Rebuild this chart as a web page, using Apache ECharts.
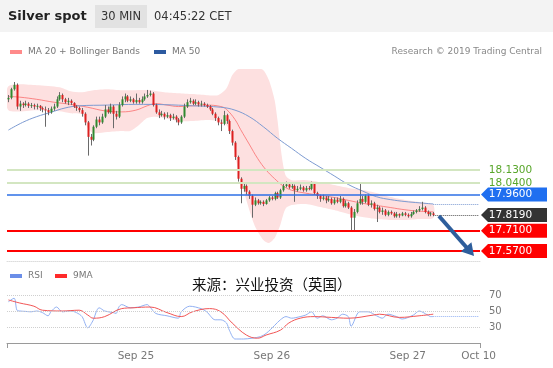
<!DOCTYPE html>
<html><head><meta charset="utf-8">
<script src="https://cdn.jsdelivr.net/npm/echarts@6/dist/echarts.min.js"></script>
<style>html,body{margin:0;padding:0;background:#fff}#c{width:553px;height:368px}</style>
</head><body><div id="c"></div>
<script>
// ---------- DATA ----------
const dayLabels = ['Sep 25', 'Sep 26', 'Sep 27', 'Oct 10'];
const dayLabelIndex = [45, 93, 141, 166];
const categoryCount = 167;

// 30-min candles [open, close, low, high], from Sep 24 01:30 CET
const candleOHLC = [
[18.62,18.63,18.60,18.65],[18.63,18.69,18.62,18.70],[18.69,18.72,18.68,18.74],[18.72,18.57,18.55,18.73],[18.57,18.59,18.54,18.61],
[18.59,18.58,18.56,18.60],[18.58,18.59,18.57,18.61],[18.59,18.575,18.56,18.60],[18.575,18.58,18.56,18.595],[18.58,18.57,18.55,18.59],
[18.57,18.575,18.55,18.59],[18.575,18.56,18.54,18.58],[18.56,18.55,18.53,18.57],[18.55,18.545,18.43,18.57],[18.545,18.53,18.51,18.56],
[18.53,18.555,18.52,18.57],[18.555,18.57,18.54,18.59],[18.57,18.62,18.56,18.64],[18.62,18.65,18.61,18.67],[18.65,18.62,18.60,18.66],
[18.62,18.60,18.59,18.63],[18.60,18.61,18.58,18.63],[18.61,18.595,18.58,18.62],[18.595,18.57,18.56,18.60],[18.57,18.56,18.54,18.58],
[18.56,18.545,18.53,18.57],[18.545,18.52,18.50,18.56],[18.52,18.46,18.44,18.53],[18.46,18.36,18.23,18.47],[18.36,18.34,18.30,18.38],
[18.34,18.43,18.33,18.44],[18.43,18.48,18.42,18.50],[18.48,18.46,18.44,18.50],[18.46,18.50,18.45,18.52],[18.50,18.55,18.49,18.58],
[18.55,18.53,18.52,18.57],[18.53,18.57,18.52,18.59],[18.57,18.52,18.42,18.58],[18.52,18.50,18.48,18.54],[18.50,18.58,18.49,18.60],
[18.58,18.62,18.57,18.64],[18.62,18.64,18.60,18.66],[18.64,18.61,18.60,18.65],[18.61,18.62,18.60,18.64],[18.62,18.60,18.59,18.63],
[18.60,18.615,18.59,18.66],[18.615,18.60,18.59,18.63],[18.60,18.62,18.59,18.64],[18.62,18.64,18.61,18.66],[18.64,18.65,18.63,18.685],
[18.65,18.66,18.64,18.68],[18.66,18.58,18.57,18.67],[18.58,18.53,18.52,18.59],[18.53,18.51,18.49,18.55],[18.51,18.52,18.50,18.54],
[18.52,18.50,18.48,18.53],[18.50,18.51,18.49,18.53],[18.51,18.49,18.47,18.52],[18.49,18.50,18.48,18.52],[18.50,18.48,18.46,18.51],
[18.48,18.46,18.44,18.49],[18.46,18.50,18.45,18.51],[18.50,18.57,18.49,18.59],[18.57,18.60,18.56,18.62],[18.60,18.61,18.59,18.63],
[18.61,18.59,18.58,18.62],[18.59,18.60,18.58,18.62],[18.60,18.585,18.57,18.61],[18.585,18.59,18.57,18.61],[18.59,18.58,18.57,18.60],
[18.58,18.57,18.56,18.59],[18.57,18.55,18.54,18.58],[18.55,18.52,18.51,18.56],[18.52,18.49,18.47,18.53],[18.49,18.46,18.44,18.50],
[18.46,18.45,18.40,18.48],[18.45,18.51,18.44,18.54],[18.51,18.47,18.45,18.52],[18.47,18.40,18.38,18.48],[18.40,18.32,18.30,18.41],
[18.32,18.22,18.20,18.33],[18.22,18.07,18.05,18.23],[18.07,18.00,17.90,18.08],[18.00,18.02,17.98,18.04],[18.02,17.98,17.96,18.03],
[17.98,17.95,17.93,17.99],[17.95,17.89,17.80,17.96],[17.89,17.92,17.88,17.94],[17.92,17.90,17.89,17.93],[17.90,17.91,17.89,17.92],
[17.91,17.895,17.88,17.92],[17.895,17.92,17.89,17.93],[17.92,17.94,17.91,17.95],[17.94,17.93,17.92,17.95],[17.93,17.97,17.92,17.98],
[17.97,17.94,17.93,17.98],[17.94,17.99,17.93,18.00],[17.99,18.02,17.98,18.04],[18.02,18.03,18.01,18.05],[18.03,18.01,18.00,18.04],
[18.01,18.02,18.00,18.04],[18.02,17.99,17.91,18.03],[17.99,18.00,17.98,18.02],[18.00,18.01,17.99,18.03],[18.01,17.99,17.98,18.02],
[17.99,18.005,17.98,18.02],[18.005,18.00,17.99,18.02],[18.00,18.04,17.99,18.05],[18.04,17.97,17.96,18.04],[17.97,17.95,17.93,17.98],
[17.95,17.93,17.91,17.96],[17.93,17.94,17.92,17.96],[17.94,17.92,17.90,17.95],[17.92,17.93,17.91,17.95],[17.93,17.90,17.89,17.94],
[17.90,17.925,17.89,17.94],[17.925,17.91,17.90,17.94],[17.91,17.93,17.90,17.95],[17.93,17.88,17.87,17.94],[17.88,17.90,17.87,17.92],
[17.90,17.87,17.86,17.91],[17.87,17.80,17.71,17.88],[17.80,17.84,17.71,17.86],[17.84,17.90,17.83,17.92],[17.90,17.93,17.89,18.04],
[17.93,17.91,17.89,17.95],[17.91,17.95,17.90,17.96],[17.95,17.89,17.88,17.96],[17.89,17.90,17.87,17.92],[17.90,17.86,17.85,17.91],
[17.86,17.87,17.77,17.89],[17.87,17.84,17.83,17.88],[17.84,17.85,17.82,17.87],[17.85,17.82,17.81,17.86],[17.82,17.84,17.81,17.85],
[17.84,17.83,17.82,17.85],[17.83,17.81,17.80,17.84],[17.81,17.825,17.80,17.84],[17.825,17.815,17.80,17.83],[17.815,17.83,17.81,17.84],
[17.83,17.82,17.81,17.84],[17.82,17.81,17.80,17.83],[17.81,17.825,17.80,17.84],[17.825,17.84,17.82,17.85],[17.84,17.85,17.83,17.86],
[17.85,17.86,17.84,17.88],[17.86,17.87,17.85,17.91],[17.87,17.84,17.83,17.88],[17.84,17.825,17.81,17.85],[17.825,17.83,17.81,17.84],
[17.83,17.819,17.81,17.84]
];

// [candle index, value]
const ma20 = [[0,18.64],[4,18.635],[10,18.62],[16,18.60],[22,18.585],[28,18.565],[34,18.54],[40,18.533],[45,18.545],[49,18.575],[52,18.59],[56,18.58],[60,18.57],[65,18.575],[70,18.58],[75,18.57],[77,18.55],[80,18.48],[82,18.41],[85,18.31],[88,18.21],[91,18.13],[94,18.07],[97,18.02],[100,17.99],[105,17.97],[110,17.955],[115,17.94],[120,17.92],[125,17.90],[130,17.885],[135,17.87],[140,17.855],[145,17.845],[150,17.84]];
const bbUpper = [[0,18.711],[10,18.718],[18,18.704],[22,18.676],[26,18.669],[30,18.683],[35,18.69],[40,18.683],[45,18.683],[50,18.683],[55,18.669],[60,18.662],[65,18.656],[70,18.649],[74,18.649],[77,18.697],[79,18.787],[81,18.828],[84,18.842],[87,18.842],[90,18.822],[92,18.752],[94,18.614],[95,18.476],[96,18.303],[97,18.165],[98,18.089],[100,18.06],[105,18.06],[110,18.047],[115,18.026],[120,18.006],[125,17.992],[130,17.971],[135,17.943],[140,17.923],[145,17.909],[150,17.888]];
const bbLower = [[0,18.545],[10,18.545],[18,18.538],[22,18.524],[26,18.515],[28,18.42],[30,18.386],[35,18.393],[40,18.40],[43,18.40],[46,18.44],[49,18.49],[52,18.50],[55,18.49],[60,18.469],[65,18.469],[70,18.476],[74,18.469],[77,18.441],[79,18.337],[81,18.144],[84,17.923],[87,17.743],[90,17.646],[92,17.625],[94,17.66],[95,17.701],[96,17.75],[97,17.819],[98,17.867],[100,17.888],[105,17.895],[110,17.874],[115,17.853],[120,17.826],[125,17.805],[130,17.791],[135,17.784],[140,17.784],[145,17.791],[150,17.798]];
const ma50 = [[0,18.407],[5,18.46],[10,18.50],[15,18.53],[20,18.56],[25,18.575],[35,18.58],[45,18.585],[55,18.583],[65,18.575],[75,18.565],[80,18.545],[85,18.50],[90,18.43],[95,18.35],[100,18.28],[105,18.21],[110,18.15],[115,18.09],[120,18.03],[125,17.985],[130,17.945],[135,17.925],[140,17.912],[145,17.903],[150,17.895]];

const rsi = [[0,61.6],[2,66],[3,51],[4,50],[6,49.5],[8,49],[10,50],[12,48],[14,44],[15,49],[17,55],[19,49],[22,50],[24,48],[26,43],[28,29],[30,39],[31,49],[32,54],[34,50],[37,48],[38,47],[39,55],[40,58],[43,54],[46,55],[49,58],[50,55],[52,47],[56,44],[60,41],[61,49],[64,56],[68,53],[70,49],[73,39],[75,39],[77,35],[78,26],[80,15],[83,15],[86,16],[89,18],[91,22],[94,32],[96,39],[98,43],[100,41],[103,43],[105,45],[107,49],[109,41],[111,44],[114,39],[116,41],[118,46],[120,43],[121,31],[124,49],[127,49],[130,44],[132,41],[134,46],[137,43],[139,40],[143,45],[145,50],[148,45],[149,43],[150,43]];
const rsiMA9 = [[0,63.8],[4,60],[9,56],[12,51],[19,50],[25,51],[28,45],[30,41],[34,43],[40,53],[44,54],[50,55],[56,48],[61,43],[65,49],[71,53],[75,49],[79,35],[84,20],[88,16],[91,20],[96,26],[99,35],[103,41],[108,43],[114,42],[120,41],[129,45],[131,46],[138,42],[145,44],[150,46]];
const rsiLevels = [70, 50, 30];
const rsiLast = 43;

const levelValues = [18.13, 18.04, 17.96, 17.71, 17.57];
const lastPrice = 17.819;
const ma50Last = 17.895;
const arrowFrom = [152, 17.812];
const arrowTo = [163, 17.566];

// ---------- STYLE ----------
const levelStyles = [
  {line:'#d3e6c1', w:2, tagBg:null, tagFg:'#58a62a'},
  {line:'#d3e6c1', w:2, tagBg:null, tagFg:'#58a62a'},
  {line:'#2d6fe6', w:1.5, tagBg:'#1f6ff0', tagFg:'#fff'},
  {line:'#ff0000', w:2, tagBg:'#ff0000', tagFg:'#fff'},
  {line:'#ff0000', w:2, tagBg:'#ff0000', tagFg:'#fff'}
];
const lastStyle = {tagBg:'#333333', tagFg:'#fff'};
const UP = '#2f8a2f', DOWN = '#dd2020', WICK = '#6a6a6a';

const categories = [];
for (let i = 0; i < categoryCount; i++) {
  const m = 90 + 30 * i;
  const d = 24 + Math.floor(m / 1440);
  const hh = Math.floor((m % 1440) / 60), mm = m % 60;
  categories.push('09-' + d + ' ' + String(hh).padStart(2,'0') + ':' + String(mm).padStart(2,'0'));
}
const labelMap = {};
dayLabelIndex.forEach((idx, k) => labelMap[idx] = dayLabels[k]);

const FONT = 'DejaVu Sans';
const tagData = levelValues.map((v, k) => [0, v, k]).concat([[0, lastPrice, 99]]);
const candleData = candleOHLC.map((d, i) => [i, d[0], d[1], d[2], d[3]]);

function renderCandle(params, api) {
  const i = api.value(0);
  const o = api.coord([i, api.value(1)]);
  const c = api.coord([i, api.value(2)]);
  const l = api.coord([i, api.value(3)]);
  const h = api.coord([i, api.value(4)]);
  const x = Math.round(o[0]);
  const up = api.value(2) >= api.value(1);
  const top = Math.min(o[1], c[1]);
  const hgt = Math.max(1, Math.abs(o[1] - c[1]));
  return {type:'group', children:[
    {type:'line', shape:{x1:x+0.5, y1:h[1], x2:x+0.5, y2:l[1]}, style:{stroke:WICK, lineWidth:1}},
    {type:'rect', shape:{x:x-0.5, y:top, width:2, height:hgt}, style:{fill: up ? UP : DOWN}}
  ]};
}

function renderTag(params, api) {
  const price = api.value(1);
  const kind = api.value(2);
  const st = kind === 99 ? lastStyle : levelStyles[kind];
  const y = api.coord([0, price])[1];
  const cs = params.coordSys;
  const x0 = cs.x + cs.width;
  const children = [];
  if (st.tagBg) {
    children.push({type:'polygon', shape:{points:[[x0+1,y],[x0+8,y-7],[x0+67,y-7],[x0+67,y+7],[x0+8,y+7]]}, style:{fill:st.tagBg}});
  }
  children.push({type:'text', x: x0 + 30.5, y: y, style:{text: price.toFixed(4), fill: st.tagFg, font: '10.5px ' + FONT, textAlign:'center', textVerticalAlign:'middle'}});
  return {type:'group', children: children};
}

function renderBand(params, api) {
  if (params.dataIndex !== 0) return;
  const pts = bbUpper.map(p => api.coord(p)).concat(bbLower.slice().reverse().map(p => api.coord(p)));
  return {type:'polygon', shape:{points: pts, smooth: 0.25}, style:{fill:'#fde0e0'}};
}

const chart = echarts.init(document.getElementById('c'), null, {renderer:'canvas'});
const option = {
  animation: false,
  backgroundColor: '#ffffff',
  textStyle: {fontFamily: FONT},
  grid: [
    {left: 7, right: 73, top: 69, height: 192},
    {left: 7, right: 73, top: 279, height: 64}
  ],
  xAxis: [
    {type:'category', gridIndex:0, data: categories, boundaryGap:true,
     axisLine:{show:true, lineStyle:{color:'#dddddd', type:'dotted'}}, axisTick:{show:false}, axisLabel:{show:false}, splitLine:{show:false}},
    {type:'category', gridIndex:1, data: categories, boundaryGap:true,
     axisLine:{show:true, lineStyle:{color:'#9a9a9a'}},
     axisTick:{show:true, interval:(i) => i === 0, length:5, lineStyle:{color:'#9a9a9a'}},
     axisLabel:{interval:(i) => labelMap[i] !== undefined, formatter:(v, i) => labelMap[i] || '', color:'#777', fontSize:10.5, fontFamily:FONT, margin:8, hideOverlap:false},
     splitLine:{show:false}}
  ],
  yAxis: [
    {type:'value', gridIndex:0, min:17.50, max:18.83, show:false, splitLine:{show:false}},
    {type:'value', gridIndex:1, min:10, max:90, interval:20, position:'right',
     axisLine:{show:false}, axisTick:{show:false}, splitLine:{show:false},
     axisLabel:{formatter:(v) => rsiLevels.indexOf(v) >= 0 ? String(v) : '', color:'#777', fontSize:10, fontFamily:FONT, margin:9}}
  ],
  graphic: [
    {type:'rect', shape:{x:0, y:0, width:553, height:32}, style:{fill:'#f3f3f3'}, z:-10},
    {type:'text', x:8, y:17, style:{text:'Silver spot', font:'bold 13px ' + FONT, fill:'#222', textVerticalAlign:'middle'}},
    {type:'rect', shape:{x:95, y:5, width:52, height:23}, style:{fill:'#e2e2e2'}},
    {type:'text', x:121, y:17, style:{text:'30 MIN', font:'11.5px ' + FONT, fill:'#333', textAlign:'center', textVerticalAlign:'middle'}},
    {type:'text', x:154, y:17, style:{text:'04:45:22 CET', font:'11.5px ' + FONT, fill:'#333', textVerticalAlign:'middle'}},
    {type:'rect', shape:{x:10, y:50, width:12, height:4}, style:{fill:'#ff8a8a'}},
    {type:'text', x:28, y:52, style:{text:'MA 20 + Bollinger Bands', font:'9px ' + FONT, fill:'#777', textVerticalAlign:'middle'}},
    {type:'rect', shape:{x:154, y:50, width:12, height:4}, style:{fill:'#2c5aa0'}},
    {type:'text', x:172, y:52, style:{text:'MA 50', font:'9px ' + FONT, fill:'#777', textVerticalAlign:'middle'}},
    {type:'text', x:542, y:52, style:{text:'Research \u00a9 2019 Trading Central', font:'9px ' + FONT, fill:'#888', textAlign:'right', textVerticalAlign:'middle'}},
    {type:'rect', shape:{x:10, y:274, width:12, height:4}, style:{fill:'#6b8ee8'}},
    {type:'text', x:28, y:276, style:{text:'RSI', font:'9px ' + FONT, fill:'#777', textVerticalAlign:'middle'}},
    {type:'rect', shape:{x:55, y:274, width:12, height:4}, style:{fill:'#ff2a2a'}},
    {type:'text', x:73, y:276, style:{text:'9MA', font:'9px ' + FONT, fill:'#777', textVerticalAlign:'middle'}},
    {type:'text', x:192, y:284, style:{text:'来源：兴业投资（英国）', font:'14.5px "Noto Sans CJK SC"', fill:'#111', textVerticalAlign:'middle'}, z:100}
  ],
  series: [
    {name:'band', type:'custom', xAxisIndex:0, yAxisIndex:0, renderItem: renderBand, data:[[0, 18.5]], clip:true, silent:true, z:1},
    {name:'MA 20', type:'line', xAxisIndex:0, yAxisIndex:0, data: ma20, smooth:0.4, symbol:'none', lineStyle:{color:'rgba(250,110,110,0.8)', width:1}, silent:true, z:2},
    {name:'MA 50', type:'line', xAxisIndex:0, yAxisIndex:0, data: ma50, smooth:0.4, symbol:'none', lineStyle:{color:'#7d9bd2', width:1}, silent:true, z:2},
    {name:'Silver', type:'custom', xAxisIndex:0, yAxisIndex:0, renderItem: renderCandle, data: candleData, encode:{x:0, y:[1,2,3,4]}, silent:true, z:3,
     markLine:{silent:true, symbol:'none', label:{show:false}, animation:false,
       data: levelValues.map((v, k) => ({yAxis: v, lineStyle:{color: levelStyles[k].line, width: levelStyles[k].w, type:'solid'}})).concat([
         [{coord:[150, lastPrice], lineStyle:{color:'#555', width:1, type:'dotted'}}, {coord:[166, lastPrice]}],
         [{coord:[150, ma50Last], lineStyle:{color:'#7d9bd2', width:1, type:'dotted'}}, {coord:[166, ma50Last]}],
         [{coord:arrowFrom, symbol:'none', lineStyle:{color:'#2e5e9c', width:4, type:'solid'}}, {coord:arrowTo, symbol:'triangle', symbolSize:[14, 12]}]
       ])}},
    {name:'tags', type:'custom', xAxisIndex:0, yAxisIndex:0, renderItem: renderTag, data: tagData, encode:{x:0, y:1}, clip:false, silent:true, z:10},
    {name:'RSI', type:'line', xAxisIndex:1, yAxisIndex:1, data: rsi, smooth:0.3, symbol:'none', lineStyle:{color:'#92b1f3', width:1}, silent:true, z:3,
     markLine:{silent:true, symbol:'none', label:{show:false}, animation:false,
       data: rsiLevels.map(v => ({yAxis: v, lineStyle:{color:'#cfcfcf', width:1, type:'dotted'}})).concat([
         [{coord:[150, rsiLast], lineStyle:{color:'#92b1f3', width:1, type:'dotted'}}, {coord:[166, rsiLast]}]
       ])}},
    {name:'9MA', type:'line', xAxisIndex:1, yAxisIndex:1, data: rsiMA9, smooth:0.4, symbol:'none', lineStyle:{color:'#f25555', width:1}, silent:true, z:4}
  ]
};
chart.setOption(option);
</script>
</body></html>
